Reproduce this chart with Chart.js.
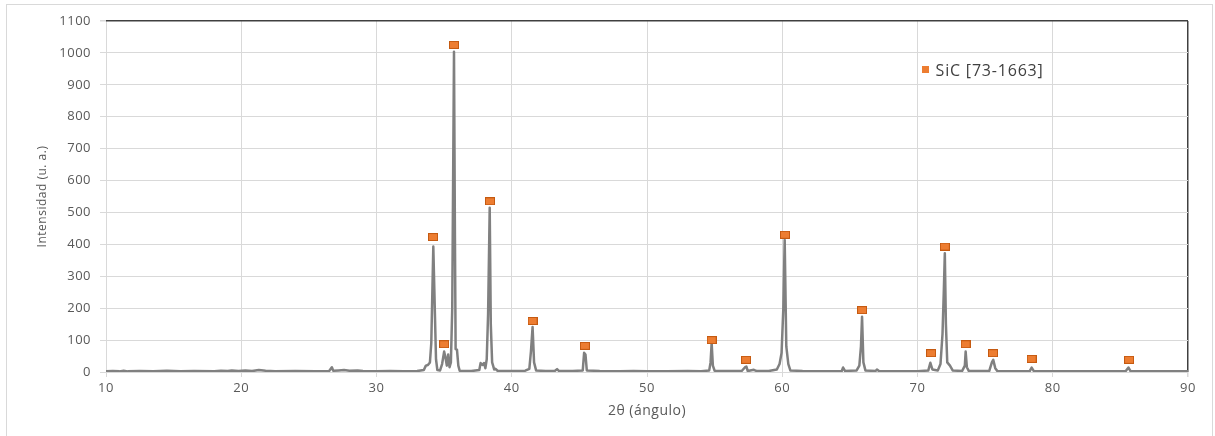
<!DOCTYPE html>
<html>
<head>
<meta charset="utf-8">
<script src="https://cdn.jsdelivr.net/npm/chart.js@4.4.1/dist/chart.umd.min.js"></script>
<style>
  html, body { margin: 0; padding: 0; background: #fff; }
  #wrap { position: relative; width: 1215px; height: 436px; overflow: hidden; }
  #frame { position: absolute; left: 6px; top: 4px; width: 1205px; height: 445px; border: 1px solid #d9d9d9; pointer-events: none; }
  canvas { position: absolute; left: 0; top: 0; }
</style>
</head>
<body>
<div id="wrap">
  <canvas id="xrd" width="1215" height="436"></canvas>
  <div id="frame"></div>
</div>
<script>
// measured diffractogram, [2theta, counts]
const scanPoints = [
  [10.0, 2], [10.5, 3], [11.0, 2], [11.3, 4], [11.6, 2], [12.5, 3], [13.5, 2], [14.0, 3],
  [14.5, 4], [15.0, 3], [15.5, 2], [16.5, 3], [18.0, 2], [18.5, 4], [19.0, 3], [19.3, 5],
  [19.8, 3], [20.3, 5], [20.8, 3], [21.3, 6], [21.8, 4], [22.5, 2], [24.0, 3], [25.5, 2],
  [26.5, 3], [26.7, 15], [26.8, 4], [27.2, 5], [27.6, 6], [28.0, 4], [28.6, 5], [29.0, 3],
  [30.0, 2], [31.0, 3], [32.0, 2], [33.0, 3], [33.5, 6], [33.65, 20], [33.8, 22], [33.95, 30],
  [34.05, 90], [34.2, 393], [34.32, 180], [34.4, 40], [34.5, 6], [34.7, 5], [34.85, 25], [35.0, 64],
  [35.1, 45], [35.2, 20], [35.3, 55], [35.4, 15], [35.5, 30], [35.6, 200], [35.73, 1004], [35.8, 420],
  [35.85, 72], [35.95, 70], [36.05, 20], [36.15, 4], [37.0, 3], [37.6, 6], [37.7, 28], [37.85, 22],
  [37.95, 28], [38.05, 12], [38.15, 40], [38.25, 180], [38.37, 515], [38.45, 150], [38.55, 30], [38.7, 8],
  [38.8, 10], [38.95, 4], [40.0, 3], [41.0, 4], [41.3, 10], [41.42, 65], [41.54, 141], [41.65, 30],
  [41.8, 5], [42.5, 3], [43.2, 4], [43.35, 9], [43.5, 3], [44.5, 3], [45.25, 5], [45.35, 60],
  [45.45, 55], [45.55, 5], [46.5, 3], [48.0, 2], [49.0, 3], [50.0, 2], [51.5, 2], [53.0, 3],
  [54.0, 2], [54.6, 5], [54.7, 30], [54.78, 91], [54.87, 20], [55.0, 4], [56.0, 3], [57.0, 3],
  [57.25, 15], [57.35, 17], [57.45, 3], [57.9, 7], [58.1, 3], [59.0, 3], [59.6, 8], [59.8, 25],
  [59.95, 60], [60.08, 200], [60.18, 414], [60.3, 80], [60.45, 25], [60.6, 5], [61.5, 3], [63.0, 2],
  [64.4, 3], [64.5, 14], [64.65, 3], [65.5, 5], [65.7, 20], [65.82, 80], [65.9, 173], [66.0, 30],
  [66.15, 5], [66.9, 3], [67.0, 8], [67.15, 3], [68.5, 2], [70.0, 2], [70.8, 5], [70.95, 29],
  [71.1, 8], [71.5, 5], [71.7, 25], [71.85, 120], [71.95, 260], [72.02, 372], [72.1, 150], [72.2, 30],
  [72.4, 20], [72.6, 5], [73.3, 3], [73.5, 20], [73.56, 64], [73.65, 15], [73.8, 3], [75.3, 3],
  [75.5, 30], [75.6, 38], [75.75, 12], [75.9, 3], [77.0, 2], [78.3, 3], [78.44, 14], [78.6, 3],
  [80.0, 2], [82.0, 2], [84.0, 2], [85.4, 3], [85.6, 14], [85.75, 3], [87.0, 2], [89.0, 2], [90.0, 2]
];

// SiC reference card markers
const sicLabel = 'SiC [73-1663]';
const sicAngles = [34.18, 35.0, 35.73, 38.39, 41.54, 45.41, 54.78, 57.32, 60.2, 65.9, 71.0, 72.02, 73.56, 75.58, 78.44, 85.64];
const sicHeights = [423, 87, 1025, 535, 160, 82, 100, 38, 430, 194, 59, 393, 87, 59, 41, 38];

const xTitle = '2θ (ángulo)';
const yTitle = 'Intensidad (u. a.)';

const ORANGE = '#ed7d31';
const ORANGE_EDGE = '#c55a11';
const GRID = '#d9d9d9';
const FRAME = '#404040';

function makeMarker(w, h, edge){ // little orange box used as point style
  const c = document.createElement('canvas');
  c.width = w; c.height = h;
  const g = c.getContext('2d');
  g.fillStyle = ORANGE;
  g.fillRect(0, 0, w, h);
  if(edge){
    g.strokeStyle = ORANGE_EDGE;
    g.lineWidth = 1;
    g.strokeRect(0.5, 0.5, w - 1, h - 1);
  }
  return c;
}
const peakMarker = makeMarker(10, 8, true);
const legendMarker = makeMarker(7, 7, false);

Chart.defaults.font.family = "'Open Sans', sans-serif";
Chart.defaults.color = '#595959';

const spacingPlugin = { // the original text is a bit wider set than Open Sans
  id: 'spacing',
  beforeDraw(chart){ chart.ctx.letterSpacing = '0.5px'; }
};

const legendPlugin = { // legend sits inside the plot, near the top right
  id: 'innerLegend',
  afterDraw(chart){
    const ctx = chart.ctx;
    const x = chart.scales.x.getPixelForValue(70.6);
    const y = chart.scales.y.getPixelForValue(945);
    ctx.save();
    ctx.drawImage(legendMarker, x - 4, y - 4);
    ctx.fillStyle = '#404040';
    ctx.font = "16px 'Open Sans', sans-serif";
    ctx.letterSpacing = '0.8px';
    ctx.textAlign = 'left';
    ctx.textBaseline = 'middle';
    ctx.fillText(chart.data.datasets[1].label, x + 10, y + 1);
    ctx.restore();
  }
};

const CTX = document.getElementById('xrd').getContext('2d');
new Chart(CTX, {
  type: 'scatter',
  data: {
    datasets: [
      {
        label: 'muestra',
        data: scanPoints.map(p => ({x: p[0], y: p[1]})),
        showLine: true,
        borderColor: '#808080',
        borderWidth: 2.5,
        borderJoinStyle: 'round',
        pointRadius: 0,
        tension: 0,
        order: 2
      },
      {
        label: sicLabel,
        data: sicAngles.map((a, i) => ({x: a, y: sicHeights[i]})),
        showLine: false,
        pointStyle: peakMarker,
        pointRadius: 5,
        order: 1
      }
    ]
  },
  options: {
    responsive: false,
    animation: false,
    layout: { padding: { left: 0, top: 21, right: 27, bottom: 0 } },
    plugins: {
      legend: { display: false },
      tooltip: { enabled: false }
    },
    scales: {
      x: {
        type: 'linear',
        min: 10, max: 90,
        afterFit(scale){ scale.height = 64; },
        ticks: { stepSize: 10, padding: 3, font: { size: 13 }, color: '#595959', callback: v => String(v) },
        grid: {
          color: c => (c.tick && c.tick.value === 90) ? FRAME : GRID,
          lineWidth: c => (c.tick && c.tick.value === 90) ? 1.5 : 1,
          tickColor: GRID,
          tickLength: 5
        },
        border: { display: false },
        title: { display: true, text: xTitle, color: '#595959', font: { size: 14 }, padding: { top: 0, bottom: 17 } }
      },
      y: {
        min: 0, max: 1100,
        afterFit(scale){ scale.width = 106; },
        ticks: { stepSize: 100, padding: 9, font: { size: 13 }, color: '#595959', callback: v => String(v) },
        grid: {
          color: c => (c.tick && c.tick.value === 1100) ? FRAME : GRID,
          lineWidth: c => (c.tick && c.tick.value === 1100) ? 1.5 : 1,
          tickColor: GRID,
          tickLength: 6
        },
        border: { display: false },
        title: { display: true, text: yTitle, color: '#595959', font: { size: 12 }, padding: { top: 35, bottom: 0 } }
      }
    }
  },
  plugins: [spacingPlugin, legendPlugin]
});
</script>
</body>
</html>
